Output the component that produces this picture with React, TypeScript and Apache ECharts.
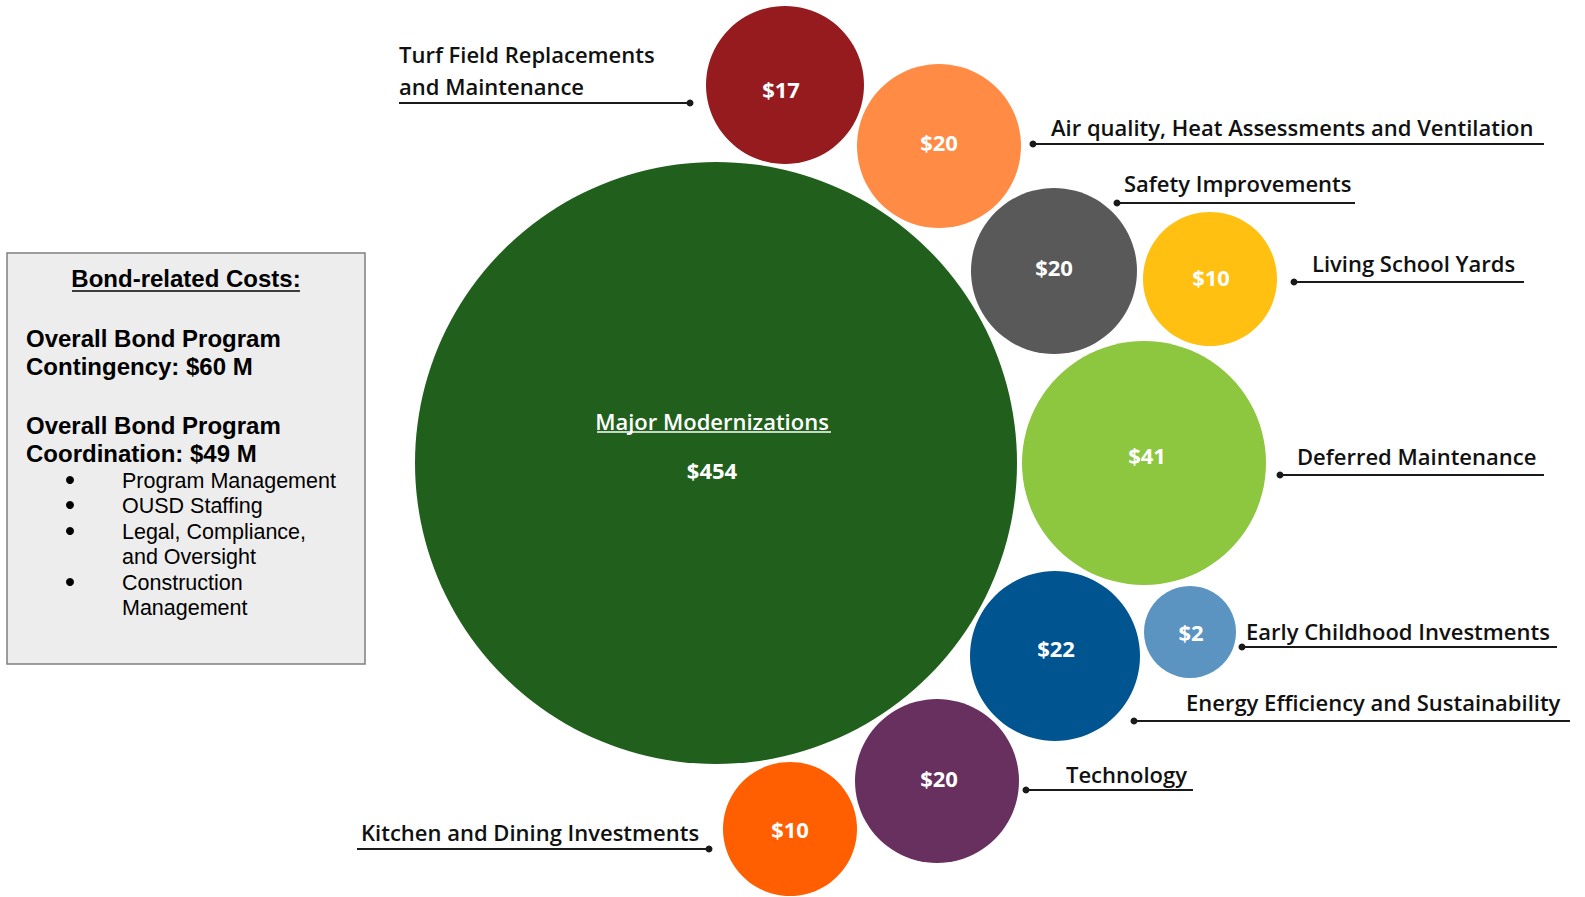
import React, { useEffect, useRef } from "react";
import * as echarts from "echarts";

// ---- data ----
const categories = [
  "Major Modernizations",
  "Turf Field Replacements\nand Maintenance",
  "Air quality, Heat Assessments and Ventilation",
  "Safety Improvements",
  "Living School Yards",
  "Deferred Maintenance",
  "Energy Efficiency and Sustainability",
  "Early Childhood Investments",
  "Technology",
  "Kitchen and Dining Investments",
];
const values = [454, 17, 20, 20, 10, 41, 22, 2, 20, 10];

// bubble layout (packed positions)
const centerX = [716, 785, 939, 1054, 1210, 1144, 1055, 1190, 937, 790];
const centerY = [463, 85, 146, 271, 279, 463, 656, 632, 781, 829];
const radius = [301, 79, 82, 83, 67, 122, 85, 46, 82, 67];
// small offsets of the value labels inside the bubbles
const valueLabelDx = [-4, -4, 0, 0, 1, 3, 1, 1, 2, 0];
const valueLabelDy = [-18, 4, -4, -4, -2, -8, -8, 0, -3, 0];

// leader lines: dot end x, far end x, y ; label anchor
const leaderDotX = [0, 690, 1033, 1117, 1294, 1280, 1134, 1242, 1026, 709];
const leaderEndX = [0, 399, 1544, 1355, 1524, 1544, 1570, 1557, 1193, 357];
const leaderY = [0, 103, 144, 203, 282, 475, 721, 647, 790, 849];
const labelX = [0, 399, 1051, 1124, 1312, 1297, 1186, 1246, 1066, 361];
const labelY = [0, 70, 127, 183, 263, 456, 702, 631, 774, 832];

const boxTitle = "Bond-related Costs:";
const boxBoldLines = [
  "Overall Bond Program",
  "Contingency: $60 M",
  "",
  "Overall Bond Program",
  "Coordination: $49 M",
];
const boxBullets = [
  "Program Management",
  "OUSD Staffing",
  "Legal, Compliance,\nand Oversight",
  "Construction\nManagement",
];

const palette = [
  "#215F1C",
  "#951B1F",
  "#FF8B45",
  "#595959",
  "#FFC012",
  "#8DC63F",
  "#00548F",
  "#5B93C1",
  "#67305F",
  "#FF5F00",
];

const W = 1585;
const H = 897;
const LABEL_FONT = "'Open Sans', Lato, sans-serif";
const BOX_FONT = "'Liberation Sans', Arial, sans-serif";

export default function App() {
  const ref = useRef<HTMLDivElement>(null);

  useEffect(() => {
    if (!ref.current) return;
    const chart = echarts.init(ref.current, undefined, { renderer: "svg" });

    const bubbleData = values.map((v, i) => ({
      value: [centerX[i], centerY[i], v],
      name: categories[i],
      itemStyle: { color: palette[i], opacity: 1 },
    }));

    const leaderData = [] as any[];
    for (let i = 1; i < categories.length; i++) {
      leaderData.push({
        coords: [
          [leaderDotX[i], leaderY[i]],
          [leaderEndX[i], leaderY[i]],
        ],
      });
    }

    const graphics: any[] = [];
    // category labels
    for (let i = 1; i < categories.length; i++) {
      graphics.push({
        type: "text",
        x: labelX[i],
        y: labelY[i],
        style: {
          text: categories[i],
          fill: "#111",
          font: `600 22px ${LABEL_FONT}`,
          verticalAlign: "middle",
          align: "left",
          lineHeight: 32,
        },
        z: 10,
      });
    }
    // underline for Major Modernizations
    graphics.push({
      type: "line",
      shape: { x1: 597, y1: 432, x2: 831, y2: 432 },
      style: { stroke: "#ffffff", lineWidth: 1.5 },
      z: 20,
    });

    // left box
    const boxChildren: any[] = [
      {
        type: "rect",
        shape: { x: 7, y: 253, width: 358, height: 411 },
        style: { fill: "#EDEDED", stroke: "#7F7F7F", lineWidth: 1.5 },
      },
      {
        type: "text",
        x: 186,
        y: 278,
        style: {
          text: boxTitle,
          font: `bold 24px ${BOX_FONT}`,
          fill: "#000",
          align: "center",
          verticalAlign: "middle",
        },
      },
      {
        type: "line",
        shape: { x1: 72, y1: 291, x2: 300, y2: 291 },
        style: { stroke: "#000", lineWidth: 1.5 },
      },
    ];
    const boldY = [338, 366, 0, 425, 453];
    boxBoldLines.forEach((t, i) => {
      if (!t) return;
      boxChildren.push({
        type: "text",
        x: 26,
        y: boldY[i],
        style: {
          text: t,
          font: `bold 24px ${BOX_FONT}`,
          fill: "#000",
          verticalAlign: "middle",
        },
      });
    });
    const bulletY = [480, 505, 531, 582];
    boxBullets.forEach((t, i) => {
      boxChildren.push({
        type: "circle",
        shape: { cx: 70, cy: bulletY[i], r: 4 },
        style: { fill: "#000" },
      });
      boxChildren.push({
        type: "text",
        x: 122,
        y: bulletY[i] - 12,
        style: {
          text: t,
          font: `21.5px ${BOX_FONT}`,
          fill: "#000",
          verticalAlign: "top",
          lineHeight: 25.5,
        },
      });
    });
    graphics.push({ type: "group", children: boxChildren, z: 5 });

    chart.setOption({
      animation: false,
      backgroundColor: "#ffffff",
      grid: { left: 0, right: 0, top: 0, bottom: 0 },
      xAxis: { type: "value", min: 0, max: W, show: false },
      yAxis: { type: "value", min: 0, max: H, inverse: true, show: false },
      series: [
        {
          type: "scatter",
          data: bubbleData,
          symbol: "circle",
          symbolSize: (_v: any, p: any) => radius[p.dataIndex] * 2,
          itemStyle: { opacity: 1 },
          label: {
            show: true,
            position: "inside",
            color: "#ffffff",
            fontFamily: LABEL_FONT,
            fontWeight: "bold",
            fontSize: 22,
            formatter: (p: any) =>
              p.dataIndex === 0
                ? `{t|${p.name}}\n{v|$${p.value[2]}}`
                : `$${p.value[2]}`,
            rich: {
              t: {
                color: "#fff",
                fontFamily: LABEL_FONT,
                fontSize: 22,
                fontWeight: 600,
                lineHeight: 49,
              },
              v: {
                color: "#fff",
                fontFamily: LABEL_FONT,
                fontSize: 22,
                fontWeight: "bold",
                lineHeight: 49,
              },
            },
          },
          labelLayout: (p: any) => ({
            dx: valueLabelDx[p.dataIndex],
            dy: valueLabelDy[p.dataIndex],
          }),
          emphasis: { disabled: true },
          z: 2,
        },
        {
          type: "lines",
          coordinateSystem: "cartesian2d",
          data: leaderData,
          symbol: ["circle", "none"],
          symbolSize: 7,
          lineStyle: { color: "#1a1a1a", width: 2, opacity: 1, curveness: 0 },
          z: 3,
          silent: true,
        },
      ],
      graphic: graphics,
    });

    return () => chart.dispose();
  }, []);

  return (
    <div
      ref={ref}
      style={{ position: "absolute", left: 0, top: 0, width: W, height: H }}
    />
  );
}
